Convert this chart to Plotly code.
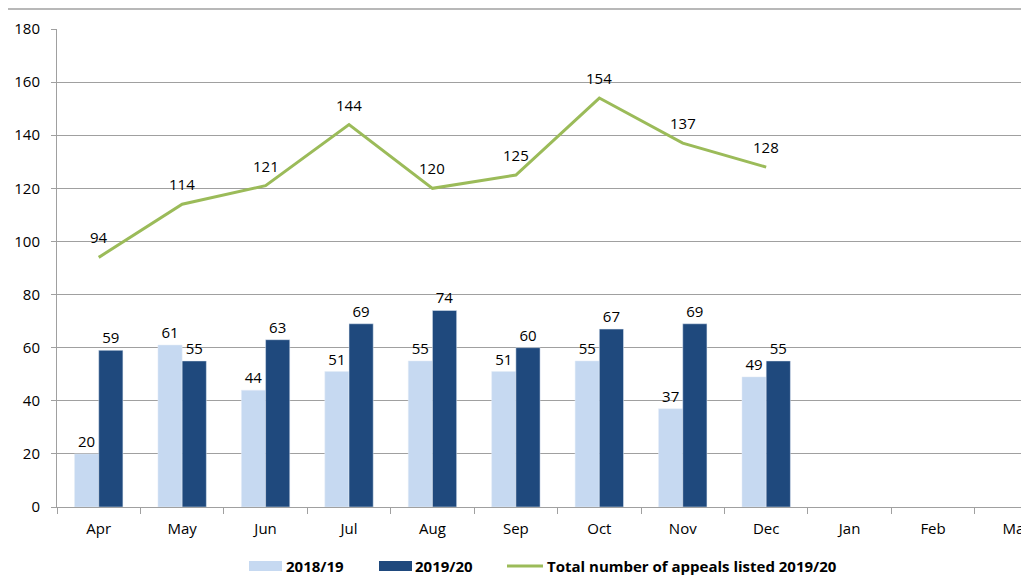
import plotly.graph_objects as go

months = ["Apr", "May", "Jun", "Jul", "Aug", "Sep", "Oct", "Nov", "Dec", "Jan", "Feb", "Mar"]
shown = months[:9]
v_2018 = [20, 61, 44, 51, 55, 51, 55, 37, 49]
v_2019 = [59, 55, 63, 69, 74, 60, 67, 69, 55]
total_2019 = [94, 114, 121, 144, 120, 125, 154, 137, 128]
series_names = ["2018/19", "2019/20", "Total number of appeals listed 2019/20"]
colors = ["#C6D9F1", "#1F497D", "#9BBB59"]

font_family = "Open Sans, DejaVu Sans, sans-serif"

# layout geometry (page pixels; page body has 8px offset)
L, T, B, W, H = 49, 21, 77, 1021, 576
plot_w = W - L
plot_h = H - T - B


def px(x):
    return (x - 8 - L) / plot_w


def py(y):
    return (H - B - (y - 8)) / plot_h


fig = go.Figure()
fig.add_trace(go.Bar(
    x=shown, y=v_2018, name=series_names[0], marker_color=colors[0],
    text=v_2018, textposition="outside", textfont=dict(size=15, color="#000"),
    cliponaxis=False, showlegend=False,
))
fig.add_trace(go.Bar(
    x=shown, y=v_2019, name=series_names[1], marker_color=colors[1],
    text=v_2019, textposition="outside", textfont=dict(size=15, color="#000"),
    cliponaxis=False, showlegend=False,
))
fig.add_trace(go.Scatter(
    x=shown, y=total_2019, name=series_names[2],
    mode="lines", line=dict(color=colors[2], width=3), showlegend=False,
))

annotations = [
    dict(x=m, y=v, text=str(v), showarrow=False, yshift=20,
         font=dict(size=15, color="#000"))
    for m, v in zip(shown, total_2019)
]

# manual legend
legend_font = dict(size=15, family=font_family, color="#000", weight="bold")
text_x = [285, 414, 546]
for name, tx in zip(series_names, text_x):
    annotations.append(dict(xref="paper", yref="paper", x=px(tx), y=py(566),
                            xanchor="left", yanchor="middle", text=name,
                            showarrow=False, font=legend_font, borderpad=0))

shapes = [
    dict(type="line", xref="paper", yref="paper", x0=px(8), x1=1,
         y0=py(9), y1=py(9), line=dict(color="#A0A0A0", width=1.5)),
    dict(type="rect", xref="paper", yref="paper", x0=px(249), x1=px(282),
         y0=py(571), y1=py(561), fillcolor=colors[0], line=dict(width=0)),
    dict(type="rect", xref="paper", yref="paper", x0=px(379), x1=px(412),
         y0=py(571), y1=py(561), fillcolor=colors[1], line=dict(width=0)),
    dict(type="line", xref="paper", yref="paper", x0=px(507), x1=px(543),
         y0=py(566), y1=py(566), line=dict(color=colors[2], width=3)),
]

fig.update_layout(
    width=W, height=H,
    margin=dict(l=L, r=0, t=T, b=B),
    paper_bgcolor="white", plot_bgcolor="white",
    font=dict(family=font_family, size=15, color="#000"),
    barmode="group", bargap=0.42, bargroupgap=0,
    showlegend=False,
    xaxis=dict(
        categoryorder="array", categoryarray=months, range=[-0.5, 11.15],
        showline=True, linecolor="#A0A0A0", linewidth=1,
        ticks="outside", tickson="boundaries", ticklen=6, tickcolor="#A0A0A0",
        showgrid=False, tickfont=dict(size=15), automargin=False,
        ticklabelstandoff=8,
        tickmode="array", tickvals=months, ticktext=months,
    ),
    yaxis=dict(
        range=[0, 180], dtick=20, showline=True, linecolor="#A0A0A0", linewidth=1,
        showgrid=True, gridcolor="#A0A0A0", gridwidth=1,
        ticks="outside", ticklen=5, tickcolor="#A0A0A0",
        tickfont=dict(size=15), zeroline=False, automargin=False,
        ticklabelstandoff=8,
    ),
    annotations=annotations,
    shapes=shapes,
)

fig.write_html("out.html")
